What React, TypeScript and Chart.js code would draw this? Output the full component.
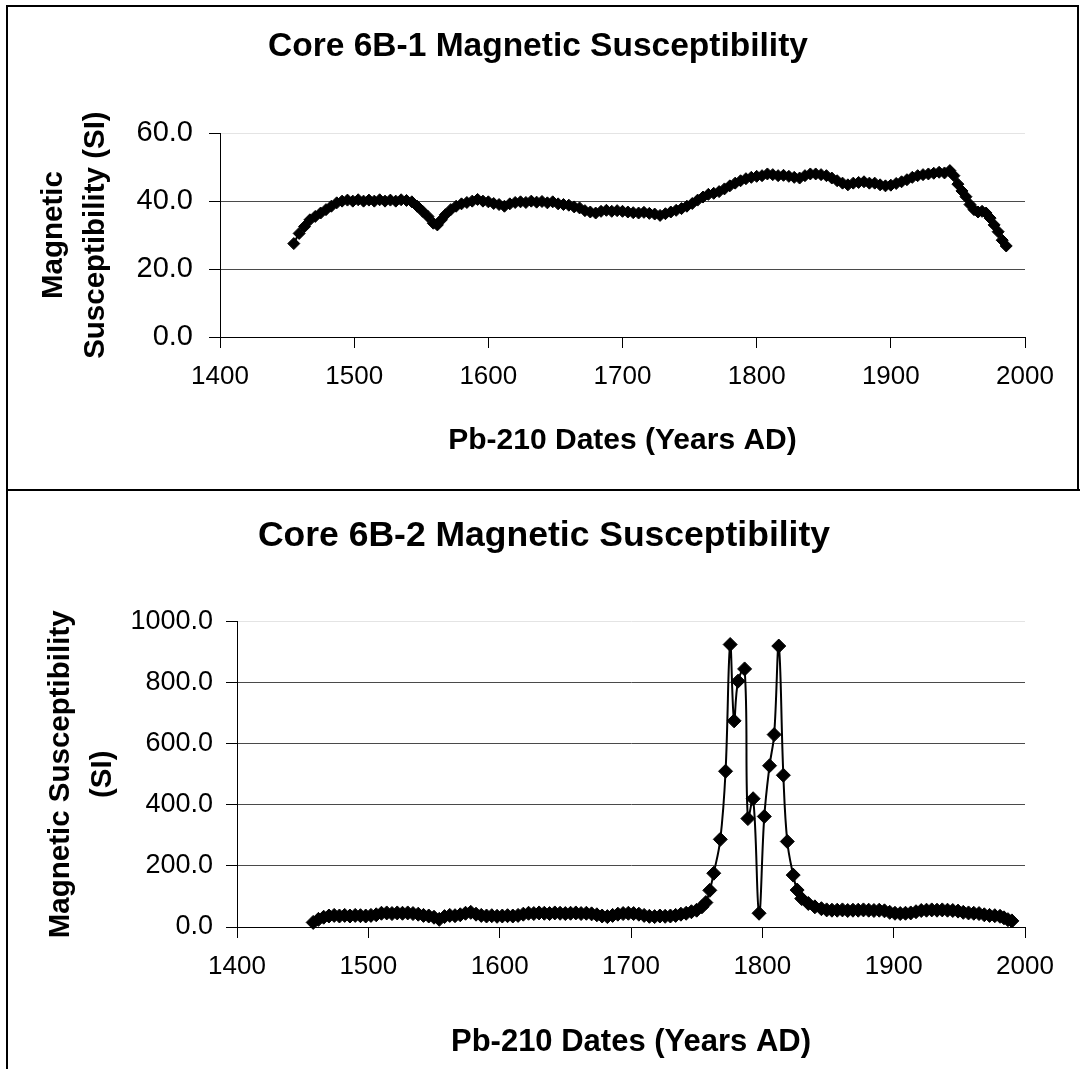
import React, { useEffect, useRef } from "react";
import { Chart, registerables } from "chart.js";

Chart.register(...registerables);

const FONT = "'Liberation Sans', Arial, Helvetica, sans-serif";

// ---- Core 6B-1 ----
const core1Years = [
  1455, 1459, 1463, 1467, 1471, 1475, 1479, 1483, 1487, 1491, 1495, 1499, 1503, 1507, 1511, 1515, 1519, 1523,
  1527, 1531, 1535, 1539, 1543, 1547, 1551, 1555, 1559, 1562, 1565, 1568, 1572, 1576, 1580, 1584, 1588, 1592,
  1596, 1600, 1604, 1608, 1612, 1616, 1620, 1624, 1628, 1632, 1636, 1640, 1644, 1648, 1652, 1656, 1660, 1664,
  1668, 1672, 1676, 1680, 1684, 1688, 1692, 1696, 1700, 1704, 1708, 1712, 1716, 1720, 1724, 1728, 1732, 1736,
  1740, 1744, 1748, 1752, 1756, 1760, 1764, 1768, 1772, 1776, 1780, 1784, 1788, 1792, 1796, 1800, 1804, 1808,
  1812, 1816, 1820, 1824, 1828, 1832, 1836, 1840, 1844, 1848, 1852, 1856, 1860, 1864, 1868, 1872, 1876, 1880,
  1884, 1888, 1892, 1896, 1900, 1904, 1908, 1912, 1916, 1920, 1924, 1928, 1932, 1936, 1940, 1944, 1947, 1950,
  1953, 1956, 1959, 1962, 1965, 1968, 1971, 1974, 1977, 1980, 1983, 1986,
];
const core1Values = [
  27.5, 30.5, 32.5, 34.5, 35.5, 36.5, 37.5, 38.5, 39.5, 40.0, 40.3, 40.0, 40.4, 40.0, 40.3, 40.0, 40.4, 40.0,
  40.3, 40.0, 40.4, 40.2, 39.8, 38.5, 37.0, 35.5, 33.5, 33.0, 34.5, 36.0, 37.5, 38.5, 39.2, 39.6, 40.0, 40.5,
  40.0, 39.8, 39.3, 39.0, 38.5, 39.2, 39.6, 39.8, 39.6, 40.0, 39.7, 39.9, 39.5, 39.8, 39.2, 39.0, 38.8, 38.3,
  38.0, 37.2, 36.8, 36.5, 37.0, 37.3, 37.0, 37.2, 37.0, 36.8, 36.6, 36.5, 36.7, 36.4, 36.2, 35.8, 36.3, 36.8,
  37.3, 37.8, 38.5, 39.3, 40.3, 41.2, 42.0, 42.3, 42.8, 43.6, 44.5, 45.3, 46.0, 46.6, 47.0, 47.3, 47.5, 48.0,
  47.8, 47.5, 47.6, 47.3, 47.0, 46.8, 47.5, 48.0, 48.0, 47.8, 47.5, 46.8, 46.0, 45.3, 44.8, 45.3, 45.5, 45.7,
  45.3, 45.3, 44.8, 44.5, 44.7, 45.2, 45.7, 46.3, 47.0, 47.5, 47.8, 48.0, 48.2, 48.5, 48.3, 49.0, 47.5, 45.0,
  43.0, 41.3, 39.0, 37.5, 36.8, 37.0, 36.5, 35.0, 33.0, 31.0, 28.5, 26.8,
];

// ---- Core 6B-2 ----
const core2Years = [
  1458, 1462, 1466, 1470, 1474, 1478, 1482, 1486, 1490, 1494, 1498, 1502, 1506, 1510, 1514, 1518, 1522, 1526,
  1530, 1534, 1538, 1542, 1546, 1550, 1554, 1558, 1562, 1566, 1570, 1574, 1578, 1582, 1586, 1590, 1594, 1598,
  1602, 1606, 1610, 1614, 1618, 1622, 1626, 1630, 1634, 1638, 1642, 1646, 1650, 1654, 1658, 1662, 1666, 1670,
  1674, 1678, 1682, 1686, 1690, 1694, 1698, 1702, 1706, 1710, 1714, 1718, 1722, 1726, 1730, 1734, 1738, 1742,
  1746, 1750, 1754, 1757, 1760, 1763, 1768, 1772, 1775.5, 1778.5, 1781.5, 1786.5, 1789, 1793, 1797.5, 1801.5,
  1805.5, 1809, 1812.5, 1816, 1819, 1823.5, 1826.5, 1830, 1835, 1840, 1845, 1849, 1853, 1857, 1861, 1865, 1869,
  1873, 1877, 1881, 1885, 1889, 1893, 1897, 1901, 1905, 1909, 1913, 1917, 1921, 1925, 1929, 1933, 1937, 1941,
  1945, 1949, 1953, 1957, 1961, 1965, 1969, 1973, 1977, 1981, 1984, 1987, 1990,
];
const core2Values = [
  15, 25, 32, 36, 38, 36, 38, 36, 38, 37, 36, 38, 40, 45, 46, 44, 46, 45,
  46, 44, 42, 38, 36, 32, 25, 34, 38, 37, 40, 45, 48, 42, 38, 36, 37, 35,
  36, 37, 36, 38, 42, 45, 44, 46, 45, 44, 46, 45, 44, 45, 46, 44, 45, 43,
  40, 36, 34, 38, 42, 44, 45, 44, 42, 38, 35, 34, 36, 35, 36, 38, 42, 45,
  50, 55, 66, 80, 120, 176, 287, 510, 925, 675, 805, 845, 355, 420, 45, 362,
  528, 630, 920, 497, 280, 170, 121, 93, 77, 66, 60, 56, 55, 55, 56, 54, 55,
  55, 56, 55, 54, 55, 53, 48, 45, 44, 45, 46, 50, 54, 55, 56, 55, 56, 55,
  54, 52, 48, 46, 45, 44, 40, 38, 37, 35, 30, 24, 20,
];

const xTickValues = [1400, 1500, 1600, 1700, 1800, 1900, 2000];
const core1YTicks = [0, 20, 40, 60];
const core2YTicks = [0, 200, 400, 600, 800, 1000];

type Opts = {
  years: number[];
  values: number[];
  yTicks: number[];
  title: string;
  yTitle: string[];
  pointRadius: number;
  layoutPadRight: number;
  plotPadRight: number;
  titleSize: number;
  titlePadTop: number;
  titlePadBottom: number;
  xHeight: number;
  yWidth: number;
  xTickSize: number;
  yTickSize: number;
  yTickPad: number;
  xTitleSize: number;
  xTitlePadBottom: number;
  yTitlePadTop: number;
};

function makeConfig(o: Opts): any {
  const yMax = o.yTicks[o.yTicks.length - 1];
  return {
    type: "line",
    data: {
      datasets: [
        {
          data: o.years.map((x, i) => ({ x, y: o.values[i] })),
          borderColor: "#000",
          backgroundColor: "#000",
          borderWidth: 2,
          pointStyle: "rectRot",
          pointRadius: o.pointRadius,
          pointBorderWidth: 1,
          pointBorderColor: "#000",
          pointBackgroundColor: "#000",
          tension: 0.4,
          fill: false,
          clip: false,
        },
      ],
    },
    options: {
      responsive: false,
      animation: false,
      devicePixelRatio: 1,
      layout: { padding: { left: 0, right: o.layoutPadRight, top: 0, bottom: 0 } },
      plugins: {
        legend: { display: false },
        tooltip: { enabled: false },
        title: {
          display: true,
          text: o.title,
          color: "#000",
          font: { family: FONT, size: o.titleSize, weight: "bold", lineHeight: 1.2 },
          padding: { top: o.titlePadTop, bottom: o.titlePadBottom },
        },
      },
      scales: {
        x: {
          type: "linear",
          min: 1400,
          max: 2000,
          afterBuildTicks: (s: any) => {
            s.ticks = xTickValues.map((v) => ({ value: v }));
          },
          afterFit: (s: any) => {
            s.height = o.xHeight;
            s.paddingRight = o.plotPadRight;
          },
          grid: { drawOnChartArea: false, drawTicks: true, tickLength: 11, color: "#000", tickColor: "#000" },
          border: { color: "#000", width: 1 },
          ticks: {
            padding: 13,
            color: "#000",
            font: { family: FONT, size: o.xTickSize },
            maxRotation: 0,
            autoSkip: false,
            callback: (v: any) => String(v),
          },
          title: {
            display: true,
            text: "Pb-210 Dates (Years AD)",
            color: "#000",
            font: { family: FONT, size: o.xTitleSize, weight: "bold", lineHeight: 1.2 },
            padding: { top: 0, bottom: o.xTitlePadBottom },
          },
        },
        y: {
          type: "linear",
          min: 0,
          max: yMax,
          afterBuildTicks: (s: any) => {
            s.ticks = o.yTicks.map((v) => ({ value: v }));
          },
          afterFit: (s: any) => {
            s.width = o.yWidth;
          },
          grid: {
            color: (c: any) => (c.tick && c.tick.value === yMax ? "#e4e4e4" : "#4a4a4a"),
            tickColor: "#000",
            tickLength: 11,
            lineWidth: 1,
          },
          border: { color: "#000", width: 1 },
          ticks: {
            padding: o.yTickPad,
            color: "#000",
            font: { family: FONT, size: o.yTickSize },
            callback: (v: any) => Number(v).toFixed(1),
          },
          title: {
            display: true,
            text: o.yTitle,
            color: "#000",
            font: { family: FONT, size: 29.5, weight: "bold", lineHeight: 1.42 },
            padding: { top: o.yTitlePadTop, bottom: 0 },
          },
        },
      },
    },
  };
}

function ChartCanvas({ opts, width, height, style }: { opts: Opts; width: number; height: number; style: any }) {
  const ref = useRef<HTMLCanvasElement | null>(null);
  useEffect(() => {
    if (!ref.current) return;
    const chart = new Chart(ref.current, makeConfig(opts));
    return () => chart.destroy();
  }, []);
  return <canvas ref={ref} width={width} height={height} style={{ position: "absolute", width, height, ...style }} />;
}

export default function App() {
  const top: Opts = {
    years: core1Years,
    values: core1Values,
    yTicks: core1YTicks,
    title: "Core 6B-1 Magnetic Susceptibility",
    yTitle: ["Magnetic", "Susceptibility (SI)"],
    pointRadius: 6,
    layoutPadRight: 9,
    plotPadRight: 52,
    titleSize: 33.5,
    titlePadTop: 20,
    titlePadBottom: 66,
    xHeight: 152,
    yWidth: 212,
    xTickSize: 26,
    yTickSize: 29,
    yTickPad: 16,
    xTitleSize: 30,
    xTitlePadBottom: 30,
    yTitlePadTop: 25,
  };
  const bottom: Opts = {
    years: core2Years,
    values: core2Values,
    yTicks: core2YTicks,
    title: "Core 6B-2 Magnetic Susceptibility",
    yTitle: ["Magnetic Susceptibility", "(SI)"],
    pointRadius: 7,
    layoutPadRight: 0,
    plotPadRight: 55,
    titleSize: 35.5,
    titlePadTop: 24,
    titlePadBottom: 64,
    xHeight: 142,
    yWidth: 229,
    xTickSize: 26,
    yTickSize: 27,
    yTickPad: 13,
    xTitleSize: 31,
    xTitlePadBottom: 8,
    yTitlePadTop: 32,
  };
  return (
    <div style={{ position: "absolute", left: 0, top: 0, width: 1080, height: 1069, overflow: "hidden", background: "#fff" }}>
      <div style={{ position: "absolute", left: 6, top: 5, width: 1069, height: 482, border: "2px solid #000" }} />
      <div
        style={{
          position: "absolute",
          left: 6,
          top: 489,
          width: 1200,
          height: 700,
          borderTop: "2px solid #000",
          borderLeft: "2px solid #000",
        }}
      />
      <ChartCanvas opts={top} width={1069} height={482} style={{ left: 8, top: 7 }} />
      <ChartCanvas opts={bottom} width={1072} height={578} style={{ left: 8, top: 491 }} />
    </div>
  );
}
